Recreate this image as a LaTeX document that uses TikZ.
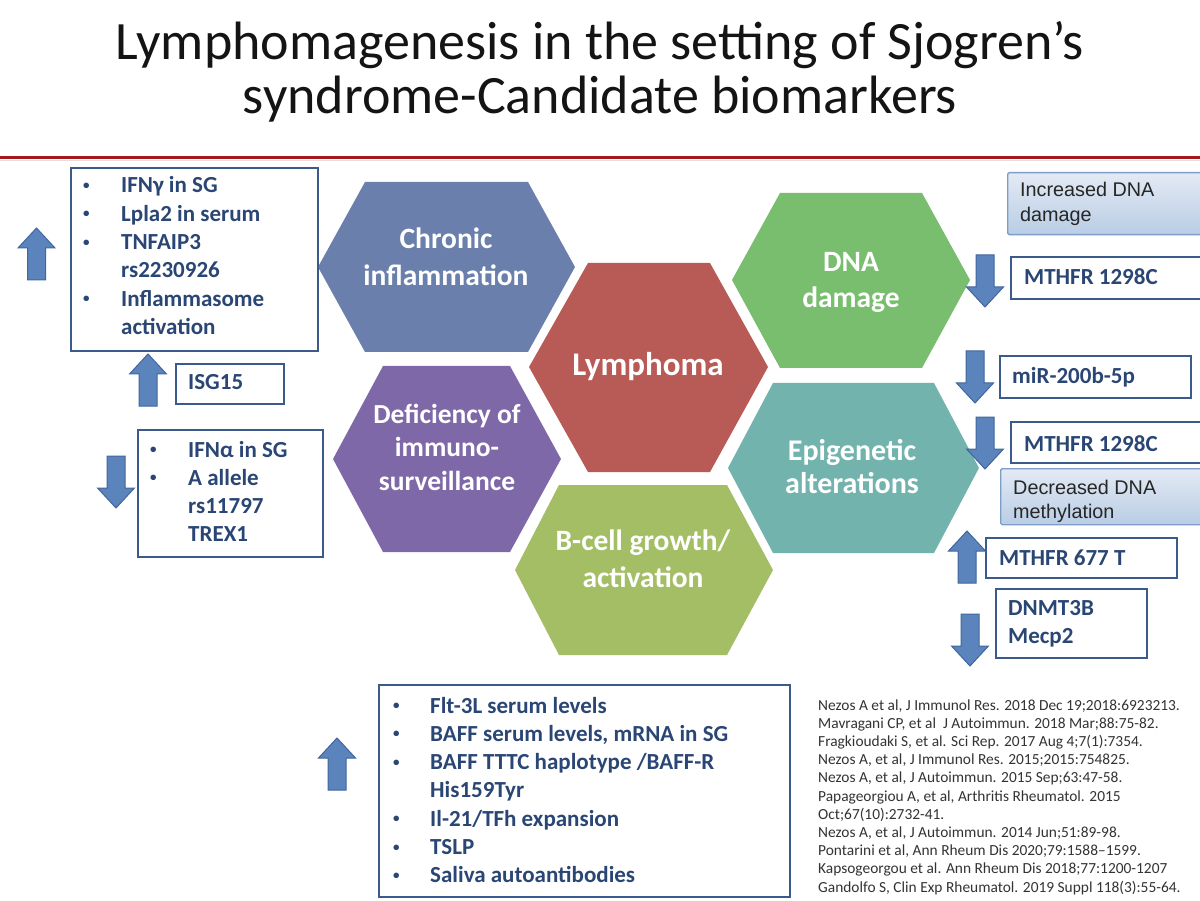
\documentclass[tikz,border=0pt]{standalone}
\usepackage{fontspec}
\setmainfont{Carlito}
\newfontfamily\arialf{Liberation Sans}
\definecolor{chronicc}{HTML}{6A7FAC}
\definecolor{lymphc}{HTML}{B85A55}
\definecolor{dnac}{HTML}{79BD6E}
\definecolor{defc}{HTML}{7F68A8}
\definecolor{epic}{HTML}{72B4AD}
\definecolor{bcellc}{HTML}{A3BE65}
\definecolor{txtc}{HTML}{2A4674}
\definecolor{boxc}{HTML}{3B5B8C}
\definecolor{arrfill}{HTML}{5B84BD}
\definecolor{arrdraw}{HTML}{41669D}
\definecolor{gtop}{HTML}{E3EAF4}
\definecolor{gbot}{HTML}{B9CDE5}
\definecolor{gboxc}{HTML}{7E9DC6}
\definecolor{refc}{HTML}{333333}
\definecolor{redl}{HTML}{A3191C}
\newcommand\bul{\raisebox{3.5pt}{\fontsize{13}{13}\selectfont•}}
\begin{document}
\begin{tikzpicture}[x=1pt,y=-1pt,
  hexfont/.style={text=white,font=\fontsize{29.5}{36}\selectfont\bfseries,inner sep=0,anchor=base},
  listbox/.style={draw=boxc,line width=2.2pt,fill=white,inner sep=0,anchor=north west},
  gradbox/.style={draw=gboxc,line width=1.4pt,top color=gtop,bottom color=gbot,rounded corners=1.5pt,inner sep=0,anchor=north west},
  btxt/.style={text=txtc,font=\fontsize{23}{28.3}\selectfont\bfseries,inner sep=0,anchor=base west},
  gtxt/.style={text=black!85,font=\arialf\fontsize{19.8}{24.5}\selectfont,inner sep=0,anchor=base west},
  arrowst/.style={fill=arrfill,draw=arrdraw,line width=1pt,line join=miter},
  uparr/.pic={\path[arrowst] (0,0) -- (18.5,20) -- (9,20) -- (9,52) -- (-9,52) -- (-9,20) -- (-18.5,20) -- cycle;},
  dnarr/.pic={\path[arrowst] (-9,0) -- (9,0) -- (9,32) -- (18.5,32) -- (0,52) -- (-18.5,32) -- (-9,32) -- cycle;}
]
\useasboundingbox (0,0) rectangle (1200,901);
\fill[white] (0,0) rectangle (1200,901);

% title
\node[font=\fontsize{54}{53}\selectfont,text=black!92,inner sep=0,anchor=base] (title) at (600,60)
  {\begin{tabular}[t]{@{}c@{}}Lymphomagenesis in the setting of Sjogren’s\\syndrome-Candidate biomarkers\end{tabular}};
\coordinate (rl1) at (0,158);
\coordinate (rl2) at (1200,158);
\draw[redl,line width=3pt] (rl1) -- (rl2);
\draw[black!12,line width=1pt] ([yshift=-3pt]rl1) -- ([yshift=-3pt]rl2);

% hexagons
\fill[chronicc] (318,267) -- (365,182) -- (528,182) -- (575,267) -- (528,352) -- (365,352) -- cycle;
\node[hexfont,font=\fontsize{29.5}{37}\selectfont\bfseries] (chronic) at (446,249) {\begin{tabular}[t]{@{}c@{}}Chronic\\inflammation\end{tabular}};

\fill[lymphc] (529,367) -- (588,263) -- (710,263) -- (768,367) -- (710,472) -- (588,472) -- cycle;
\node[hexfont,font=\fontsize{33}{36}\selectfont\bfseries] (lymph) at (648,376) {Lymphoma};

\fill[dnac] (732,280) -- (780,193) -- (922,193) -- (970,280) -- (922,368) -- (780,368) -- cycle;
\node[hexfont] (dna) at (851,272) {\begin{tabular}[t]{@{}c@{}}DNA\\damage\end{tabular}};

\fill[defc] (333,459) -- (383,366) -- (510,366) -- (561,459) -- (510,552) -- (383,552) -- cycle;
\node[hexfont,font=\fontsize{27.5}{33.5}\selectfont\bfseries] (def) at (447,423) {\begin{tabular}[t]{@{}c@{}}Deficiency of\\immuno-\\surveillance\end{tabular}};

\fill[epic] (728,468) -- (773,383) -- (934,383) -- (979,468) -- (934,553) -- (773,553) -- cycle;
\node[hexfont,font=\fontsize{30}{33}\selectfont\bfseries] (epi) at (852,460) {\begin{tabular}[t]{@{}c@{}}Epigenetic\\alterations\end{tabular}};

\fill[bcellc] (515,570) -- (559,485) -- (727,485) -- (773,570) -- (727,655) -- (559,655) -- cycle;
\node[hexfont,font=\fontsize{29.5}{37}\selectfont\bfseries] (bcell) at (643,550) {\begin{tabular}[t]{@{}c@{}}B-cell growth/\\activation\end{tabular}};

% left boxes
\node[listbox,minimum width=247,minimum height=183] (b1) at (70,167) {};
\node[btxt] (t1) at (83,193) {\begin{tabular}[t]{@{}p{38pt}@{}l@{}}\bul&IFNγ in SG\\ \bul&Lpla2 in serum\\ \bul&TNFAIP3\\ &rs2230926\\ \bul&Inflammasome\\ &activation\end{tabular}};
\pic at (36.5,228) {uparr};

\node[listbox,minimum width=108,minimum height=40] (b2) at (175,363) {};
\node[btxt] (t2) at (188,390) {ISG15};
\pic at (148,354) {uparr};

\node[listbox,minimum width=185,minimum height=127] (b3) at (137,429) {};
\node[btxt] (t3) at (150,457) {\begin{tabular}[t]{@{}p{38pt}@{}l@{}}\bul&IFNα in SG\\ \bul&A allele\\ &rs11797\\ &TREX1\end{tabular}};
\pic at (116,456) {dnarr};

% right side
\node[gradbox,minimum width=200,minimum height=62] (g1) at (1007,172) {};
\node[gtxt] (gt1) at (1020,197) {\begin{tabular}[t]{@{}l@{}}Increased DNA\\damage\end{tabular}};

\node[listbox,minimum width=200,minimum height=42] (r1) at (1010,256) {};
\node[btxt] (rt1) at (1024,285) {MTHFR 1298C};
\pic at (985,255) {dnarr};

\node[listbox,minimum width=191,minimum height=42] (r2) at (999,355) {};
\node[btxt] (rt2) at (1012,384) {miR-200b-5p};
\pic at (975,351) {dnarr};

\node[listbox,minimum width=200,minimum height=41] (r3) at (1010,421) {};
\node[btxt] (rt3) at (1024,451) {MTHFR 1298C};
\pic at (985,417) {dnarr};

\node[gradbox,minimum width=205,minimum height=56] (g2) at (1000,468) {};
\node[gtxt] (gt2) at (1013,494) {\begin{tabular}[t]{@{}l@{}}Decreased DNA\\methylation\end{tabular}};

\node[listbox,minimum width=191,minimum height=40] (r4) at (985,537) {};
\node[btxt] (rt4) at (999,565) {MTHFR 677 T};
\pic at (967,531) {uparr};

\node[listbox,minimum width=151,minimum height=69] (r5) at (995,588) {};
\node[btxt] (rt5) at (1008,615) {\begin{tabular}[t]{@{}l@{}}DNMT3B\\Mecp2\end{tabular}};
\pic at (970,614) {dnarr};

% bottom box
\node[listbox,minimum width=411,minimum height=212] (b4) at (378,684) {};
\node[btxt] (t4) at (393,713) {\begin{tabular}[t]{@{}p{37pt}@{}l@{}}\bul&Flt-3L serum levels\\ \bul&BAFF serum levels, mRNA in SG\\ \bul&BAFF TTTC haplotype /BAFF-R\\ &His159Tyr\\ \bul&Il-21/TFh expansion\\ \bul&TSLP\\ \bul&Saliva autoantibodies\end{tabular}};
\pic at (337,738) {uparr};

% references
\node[text=refc,font=\fontsize{15.4}{18.2}\selectfont,inner sep=0,anchor=base west] (refs) at (818,710)
 {\begin{tabular}[t]{@{}l@{}}
 Nezos A et al, J Immunol Res. 2018 Dec 19;2018:6923213.\\
 Mavragani CP, et al\ \ J Autoimmun. 2018 Mar;88:75-82.\\
 Fragkioudaki S, et al. Sci Rep. 2017 Aug 4;7(1):7354.\\
 Nezos A, et al, J Immunol Res. 2015;2015:754825.\\
 Nezos A, et al, J Autoimmun. 2015 Sep;63:47-58.\\
 Papageorgiou A, et al, Arthritis Rheumatol. 2015\\
 Oct;67(10):2732-41.\\
 Nezos A, et al, J Autoimmun. 2014 Jun;51:89-98.\\
 Pontarini et al, Ann Rheum Dis 2020;79:1588–1599.\\
 Kapsogeorgou et al. Ann Rheum Dis 2018;77:1200-1207\\
 Gandolfo S, Clin Exp Rheumatol. 2019 Suppl 118(3):55-64.
 \end{tabular}};
\end{tikzpicture}
\end{document}
